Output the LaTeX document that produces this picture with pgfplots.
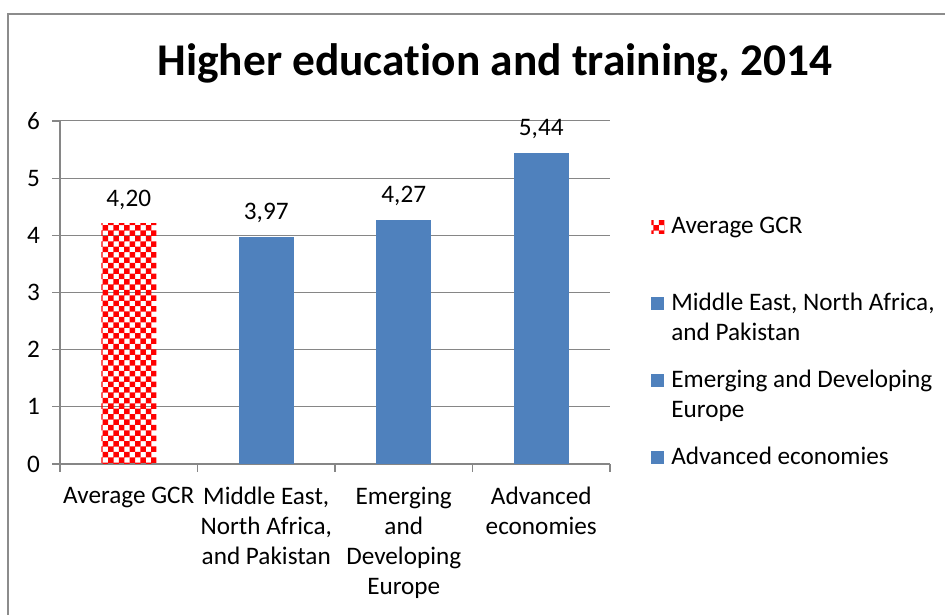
\documentclass[border=0pt]{standalone}
\usepackage{fontspec}
\setmainfont{Carlito}[Ligatures=NoCommon]
\usepackage{pgfplots}
\pgfplotsset{compat=1.18}
\usetikzlibrary{patterns}

\definecolor{barblue}{HTML}{4F81BD}
\definecolor{gridgray}{HTML}{868686}
\definecolor{framegray}{HTML}{8C8C8C}

% red/white checkerboard, coarser than the stock one
\pgfdeclarepatternformonly{bigchecker}{\pgfqpoint{-1pt}{-1pt}}{\pgfqpoint{6.4pt}{6.4pt}}{\pgfqpoint{5.4pt}{5.4pt}}{%
  \pgfpathrectangle{\pgfpointorigin}{\pgfqpoint{2.75pt}{2.75pt}}%
  \pgfpathrectangle{\pgfqpoint{2.7pt}{2.7pt}}{\pgfqpoint{2.75pt}{2.75pt}}%
  \pgfusepath{fill}}

\newcommand{\lblfont}{\fontsize{12.6}{15}\selectfont}

\begin{document}
\begin{tikzpicture}
\useasboundingbox (0,0) rectangle (472.5pt,307pt);
\draw[line width=1pt, framegray] (4pt,-5pt) -- (4pt,300pt) -- (480pt,300pt);
\node[anchor=base, font=\fontsize{22.7}{26}\selectfont\bfseries] at (247.5pt,269pt)
  {Higher education and training, 2014};

\begin{axis}[
    at={(30pt,75pt)}, anchor=south west,
    scale only axis, width=275pt, height=171.5pt,
    xmin=-0.5, xmax=3.5, ymin=0, ymax=6,
    bar width=27.5pt,
    ytick={0,1,2,3,4,5,6},
    xtick={-0.5,0.5,1.5,2.5,3.5},
    x tick label as interval,
    xticklabels={Average GCR, {Middle East,\\North Africa,\\and Pakistan},
                 {Emerging\\and\\Developing\\Europe}, {Advanced\\economies}},
    xticklabel style={align=center, font=\lblfont, yshift=-4pt},
    yticklabel style={font=\lblfont, xshift=-2.5pt},
    /pgf/number format/assume math mode=true,
    axis x line*=bottom, axis y line*=left,
    tick align=outside, major tick length=4pt,
    axis line style={gridgray, line width=0.6pt},
    tick style={gridgray, line width=0.6pt},
    ymajorgrids, xmajorgrids=false,
    grid style={gridgray, line width=0.5pt},
    nodes near coords,
    nodes near coords style={font=\lblfont, text=black, yshift=3.5pt,
      /pgf/number format/fixed, /pgf/number format/fixed zerofill,
      /pgf/number format/precision=2, /pgf/number format/use comma},
    legend style={at={(axis description cs:1.0745,0.7347)}, anchor=north west,
      draw=none, fill=none, inner sep=0pt, row sep=8.5pt, column sep=3.5pt,
      font=\lblfont, cells={anchor=base west}, nodes={inner sep=0pt, text depth=}},
]
\addplot[ybar, bar shift=0pt, draw=none, pattern=bigchecker, pattern color=red,
  legend image code/.code={\fill[pattern=bigchecker, pattern color=red] (0pt,0pt) rectangle (6.5pt,6.5pt);}]
  coordinates {(0,4.20)};
\addlegendentry{\begin{tabular}[t]{@{}l@{}}Average GCR\\ \strut\end{tabular}}
\addplot[ybar, bar shift=0pt, draw=none, fill=barblue,
  legend image code/.code={\fill[barblue] (0pt,0pt) rectangle (6.5pt,6.5pt);}]
  coordinates {(1,3.97)};
\addlegendentry{\begin{tabular}[t]{@{}l@{}}Middle East, North Africa,\\and Pakistan\end{tabular}}
\addplot[ybar, bar shift=0pt, draw=none, fill=barblue,
  legend image code/.code={\fill[barblue] (0pt,0pt) rectangle (6.5pt,6.5pt);}]
  coordinates {(2,4.27)};
\addlegendentry{\begin{tabular}[t]{@{}l@{}}Emerging and Developing\\Europe\end{tabular}}
\addplot[ybar, bar shift=0pt, draw=none, fill=barblue,
  legend image code/.code={\fill[barblue] (0pt,0pt) rectangle (6.5pt,6.5pt);}]
  coordinates {(3,5.44)};
\addlegendentry{\begin{tabular}[t]{@{}l@{}}Advanced economies\end{tabular}}
\end{axis}
\end{tikzpicture}
\end{document}
